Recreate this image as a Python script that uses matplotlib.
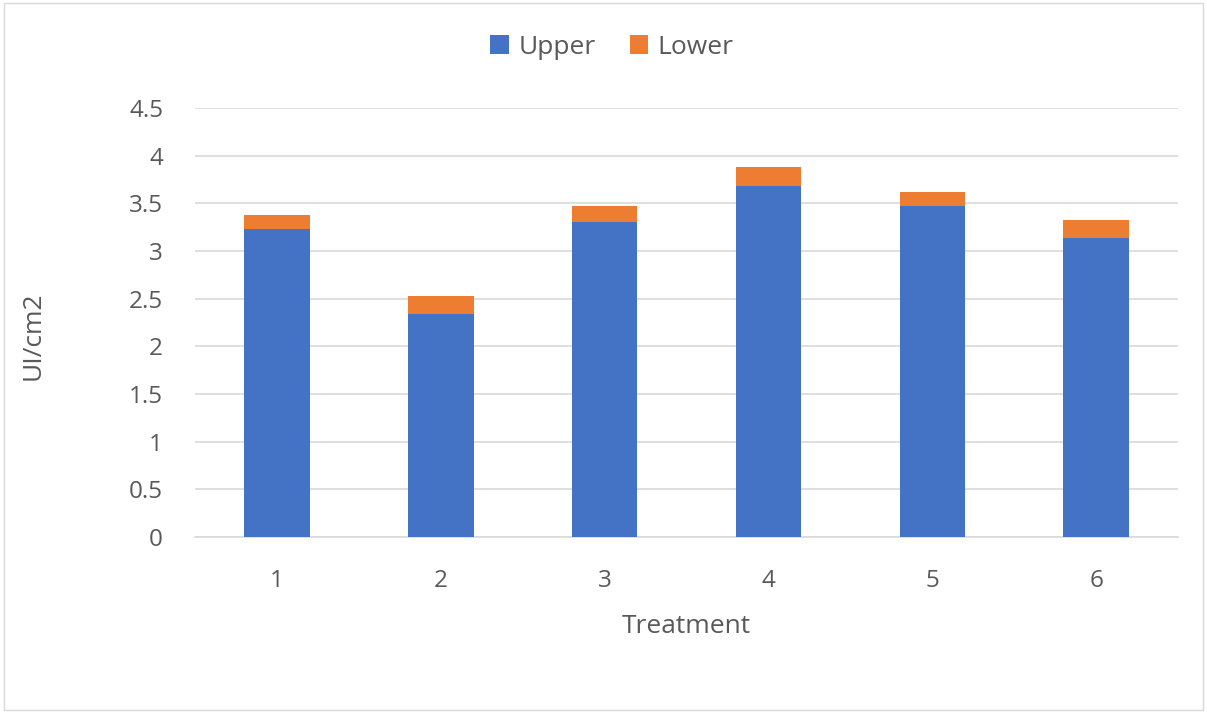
import matplotlib.pyplot as plt
from matplotlib.patches import Rectangle

# stacked values per treatment
treatments = ['1', '2', '3', '4', '5', '6']
upper = [3.23, 2.34, 3.30, 3.68, 3.47, 3.14]
lower = [0.15, 0.19, 0.17, 0.20, 0.15, 0.19]

plt.rcParams['font.family'] = ['Open Sans', 'DejaVu Sans']
txt = '#595959'

fig = plt.figure(figsize=(12.07, 7.13), dpi=100)
ax = fig.add_axes([0.1616, 0.2468, 0.8144, 0.6017])

x = range(len(treatments))
ax.bar(x, upper, width=0.4, color='#4472C4', label='Upper', zorder=3)
ax.bar(x, lower, width=0.4, bottom=upper, color='#ED7D31', label='Lower', zorder=3)

ax.set_xlim(-0.5, 5.5)
ax.set_ylim(0, 4.5)
ax.set_yticks([0, 0.5, 1, 1.5, 2, 2.5, 3, 3.5, 4, 4.5])
ax.set_yticklabels(['0', '0.5', '1', '1.5', '2', '2.5', '3', '3.5', '4', '4.5'])
ax.set_xticks(list(x))
ax.set_xticklabels(treatments)
ax.tick_params(length=0, labelsize=17.5, colors=txt)
ax.tick_params(axis='x', pad=23)
ax.tick_params(axis='y', pad=23)
ax.grid(axis='y', color='#D9D9D9', lw=1.2, zorder=0)
for s in ['top', 'right', 'left']:
    ax.spines[s].set_visible(False)
ax.spines['bottom'].set_color('#D9D9D9')
ax.spines['bottom'].set_linewidth(1.2)

ax.set_xlabel('Treatment', fontsize=19, color=txt)
ax.set_ylabel('UI/cm2', fontsize=19, color=txt)
ax.xaxis.set_label_coords(0.5, -0.18)
ax.yaxis.set_label_coords(-0.152, 0.47)

fig.legend(loc='center', bbox_to_anchor=(0.507, 0.934), ncol=2, frameon=False,
           fontsize=19, labelcolor=txt, handlelength=0.7, handleheight=0.7,
           handletextpad=0.35, columnspacing=1.3)

# light frame around the chart area
fig.patches.append(Rectangle((0.003, 0.004), 0.994, 0.992, transform=fig.transFigure,
                             fill=False, edgecolor='#D9D9D9', lw=1))

fig.savefig('out.png', dpi=100)
